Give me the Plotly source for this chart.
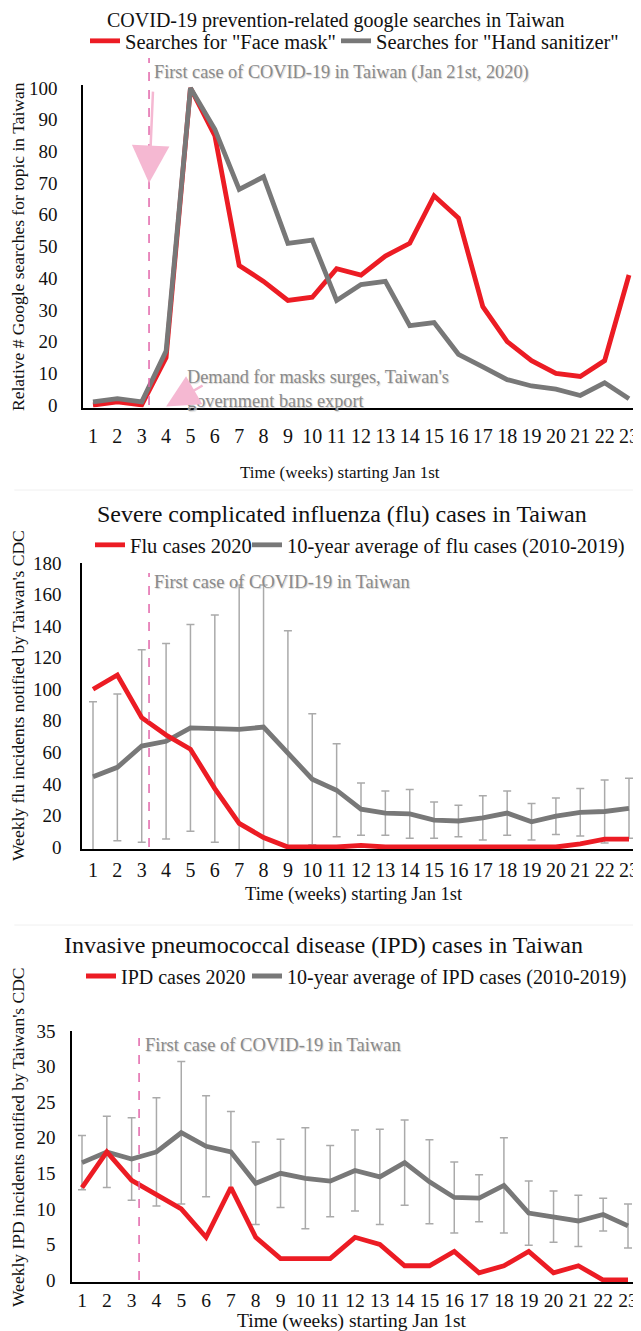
import plotly.graph_objects as go

# page is offset by the default 8px body margin; coordinates below are page pixels
OFF = 8
W, H = 641 - OFF, 1331 - OFF
def fx(p):
    return (p - OFF) / W
def fy(p):
    return 1 - (p - OFF) / H

# ---------------- data ----------------
weeks = list(range(1, 24))
week_labels = [str(w) for w in weeks]

face_mask = [0, 1, 0, 15, 100, 85, 44, 39, 33, 34, 43, 41, 47, 51, 66, 59, 31, 20, 14, 10, 9, 14, 41]
hand_sanitizer = [1, 2, 1, 17, 100, 87, 68, 72, 51, 52, 33, 38, 39, 25, 26, 16, 12, 8, 6, 5, 3, 7, 2]

flu_2020 = [100, 109, 82, 71, 62, 37, 15, 6, 0, 0, 0, 1, 0, 0, 0, 0, 0, 0, 0, 0, 2, 5, 5]
flu_avg = [44.5, 50.5, 64, 67, 75.5, 75, 74.5, 76, 60, 43, 36, 24, 21.5, 21, 17, 16.5, 18.5, 21.5, 16, 19.5, 22, 22.5, 24.5]
flu_sd = [47.5, 46.5, 61, 62, 65.5, 72, 91.5, 90, 77, 41.5, 29.5, 16.5, 14, 15.5, 11.5, 10, 14, 14, 11.5, 11.5, 15, 20, 19]

ipd_2020 = [13, 18, 14, 12, 10, 6, 13, 6, 3, 3, 3, 6, 5, 2, 2, 4, 1, 2, 4, 1, 2, 0, 0]
ipd_avg = [16.5, 18, 17, 18, 20.7, 18.8, 18, 13.6, 15, 14.3, 13.9, 15.4, 14.5, 16.5, 13.8, 11.6, 11.5, 13.3, 9.4, 8.9, 8.3, 9.2, 7.6]
ipd_sd = [3.8, 5, 5.8, 7.6, 10, 7.1, 5.7, 5.8, 4.8, 7.1, 5, 5.7, 6.7, 6, 5.9, 5, 3.3, 6.7, 4.5, 3.6, 3.6, 2.3, 3.1]

first_case_week = 3.3

# ---------------- styles ----------------
FONT = "Liberation Serif"
RED = "#ec1c24"
GRAY = "#787878"
ERR = "#aaaaaa"
PINK = "#e266aa"
ARROW = "#f5b8d2"
NOTE = "#8a8a8a"
LW = 4.8

fig = go.Figure()

# panel 1
fig.add_trace(go.Scatter(x=weeks, y=face_mask, mode="lines", line=dict(color=RED, width=LW),
                         name='Searches for "Face mask"', xaxis="x", yaxis="y", legend="legend"))
fig.add_trace(go.Scatter(x=weeks, y=hand_sanitizer, mode="lines", line=dict(color=GRAY, width=LW),
                         name='Searches for "Hand sanitizer"', xaxis="x", yaxis="y", legend="legend2"))

# panel 2
fig.add_trace(go.Scatter(x=weeks, y=flu_avg, mode="markers", marker=dict(size=1, opacity=0),
                         error_y=dict(type="data", array=flu_sd, visible=True, color=ERR, thickness=1.5, width=4),
                         showlegend=False, hoverinfo="skip", xaxis="x2", yaxis="y2"))
fig.add_trace(go.Scatter(x=weeks, y=flu_avg, mode="lines", line=dict(color=GRAY, width=LW),
                         name="10-year average of flu cases (2010-2019)", xaxis="x2", yaxis="y2", legend="legend4"))
fig.add_trace(go.Scatter(x=weeks, y=flu_2020, mode="lines", line=dict(color=RED, width=LW),
                         name="Flu cases 2020", xaxis="x2", yaxis="y2", legend="legend3"))

# panel 3
fig.add_trace(go.Scatter(x=weeks, y=ipd_avg, mode="markers", marker=dict(size=1, opacity=0),
                         error_y=dict(type="data", array=ipd_sd, visible=True, color=ERR, thickness=1.5, width=4),
                         showlegend=False, hoverinfo="skip", xaxis="x3", yaxis="y3"))
fig.add_trace(go.Scatter(x=weeks, y=ipd_avg, mode="lines", line=dict(color=GRAY, width=LW),
                         name="10-year average of IPD cases (2010-2019)", xaxis="x3", yaxis="y3", legend="legend6"))
fig.add_trace(go.Scatter(x=weeks, y=ipd_2020, mode="lines", line=dict(color=RED, width=LW),
                         name="IPD cases 2020", xaxis="x3", yaxis="y3", legend="legend5"))


def ydomain(p_zero, p_top, v_top, r0, r1):
    scale = (p_zero - p_top) / v_top
    bottom = p_zero - r0 * scale
    top = p_top - (r1 - v_top) * scale
    return [fy(bottom), fy(top)]


def xdomain(p_first, p_last, p_left):
    scale = (p_last - p_first) / 22.0
    r0 = 1 - (p_first - p_left) / scale
    r1 = 23 + (641 - p_last) / scale
    return [fx(p_left), 1.0], [r0, r1]


def yax(standoff):
    return dict(showline=True, linecolor="black", linewidth=1.5, showgrid=False, zeroline=False,
                ticks="", tickfont=dict(family=FONT, size=19, color="#111"),
                ticklabelstandoff=standoff, automargin=False)


def xax(standoff, size=20):
    return dict(showline=True, linecolor="black", linewidth=1.5, showgrid=False, zeroline=False,
                ticks="", tickfont=dict(family=FONT, size=size, color="#111"), tickvals=weeks,
                ticktext=week_labels, ticklabelstandoff=standoff, automargin=False)


d1, r1 = xdomain(93, 629, 83)
d2, r2 = xdomain(93, 629, 82)
d3, r3 = xdomain(82, 628, 72)

fig.update_layout(
    width=W, height=H, autosize=False,
    margin=dict(l=0, r=0, t=0, b=0, pad=0, autoexpand=False),
    paper_bgcolor="white", plot_bgcolor="white",
    font=dict(family=FONT, color="#111"),
    xaxis=dict(domain=d1, range=r1, anchor="y", **xax(10)),
    yaxis=dict(domain=ydomain(405, 88, 100, -0.8, 101), range=[-0.8, 101], anchor="x",
               tickvals=list(range(0, 101, 10)), **yax(20)),
    xaxis2=dict(domain=d2, range=r2, anchor="y2", **xax(2)),
    yaxis2=dict(domain=ydomain(847, 563, 180, -1.4, 180), range=[-1.4, 180], anchor="x2",
                tickvals=list(range(0, 181, 20)), **yax(15)),
    xaxis3=dict(domain=d3, range=r3, anchor="y3", **xax(0, 19.5)),
    yaxis3=dict(domain=ydomain(1280, 1031, 35, -0.3, 35), range=[-0.3, 35], anchor="x3",
                tickvals=list(range(0, 36, 5)), **yax(11)),
)

def leg(xp, yp, size):
    return dict(orientation="h", x=fx(xp), y=fy(yp), xanchor="left", yanchor="middle",
                font=dict(family=FONT, size=size, color="#111"), bgcolor="rgba(0,0,0,0)",
                borderwidth=0, itemwidth=30)

fig.update_layout(
    legend=leg(85, 41, 20.5), legend2=leg(336, 41, 20.5),
    legend3=leg(90, 545, 20.5), legend4=leg(247, 545, 20.5),
    legend5=leg(81, 976, 20), legend6=leg(247, 976, 20),
)

ann = []
def text(x, y, t, size, color="#111", xanchor="center", angle=0, shadow=None, **kw):
    f = dict(family=FONT, size=size, color=color)
    if shadow:
        f["shadow"] = shadow
    ann.append(dict(x=fx(x), y=fy(y), xref="paper", yref="paper", text=t, showarrow=False,
                    font=f, xanchor=xanchor, yanchor="middle", textangle=angle, **kw))

SH = "1px 1px 1px #d4d4d4"
# titles
text(336, 20, "COVID-19 prevention-related google searches in Taiwan", 20)
text(342, 514, "Severe complicated influenza (flu) cases in Taiwan", 24)
text(323, 945, "Invasive pneumococcal disease (IPD) cases in Taiwan", 24)
# y titles
text(18, 247, "Relative # Google searches for topic in Taiwan", 17.5, angle=-90)
text(18, 696, "Weekly flu incidents notified by Taiwan's CDC", 17.5, angle=-90)
text(18, 1138, "Weekly IPD incidents notified by Taiwan's CDC", 17.5, angle=-90)
# x titles
text(340, 472, "Time (weeks) starting Jan 1st", 17)
text(354, 895, "Time (weeks) starting Jan 1st", 18.5)
text(352, 1321, "Time (weeks) starting Jan 1st", 19.5)
# notes
text(152, 72, "First case of COVID-19 in Taiwan (Jan 21st, 2020)", 18.3, color=NOTE, xanchor="left", shadow=SH)
text(152, 582, "First case of COVID-19 in Taiwan", 18.5, color=NOTE, xanchor="left", shadow=SH)
text(143, 1045, "First case of COVID-19 in Taiwan", 18.5, color=NOTE, xanchor="left", shadow=SH)
text(185, 389, "Demand for masks surges, Taiwan's<br>government bans export", 18.3, color=NOTE,
     xanchor="left", align="left", shadow=SH)

# arrows (panel 1)
ann.append(dict(x=first_case_week, y=70, xref="x", yref="y", ax=4, ay=-93,
                text="", showarrow=True, arrowhead=2, arrowsize=3, arrowwidth=2.5, arrowcolor=ARROW))
ann.append(dict(x=4.0, y=-0.5, xref="x", yref="y", ax=38, ay=-22,
                text="", showarrow=True, arrowhead=2, arrowsize=2.6, arrowwidth=2.5, arrowcolor=ARROW))
fig.update_layout(annotations=ann)

shapes = []
for xr, ytop, ybot in [("x", 58, 405), ("x2", 573, 847), ("x3", 1038, 1280)]:
    shapes.append(dict(type="line", xref=xr, yref="paper", x0=first_case_week, x1=first_case_week,
                       y0=fy(ybot), y1=fy(ytop), line=dict(color=PINK, width=1.5, dash="dash")))
for yp in [490, 925]:
    shapes.append(dict(type="line", xref="paper", yref="paper", x0=0.01, x1=1, y0=fy(yp), y1=fy(yp),
                       line=dict(color="#f0f0f0", width=1)))
fig.update_layout(shapes=shapes)

fig.write_html("out.html")
